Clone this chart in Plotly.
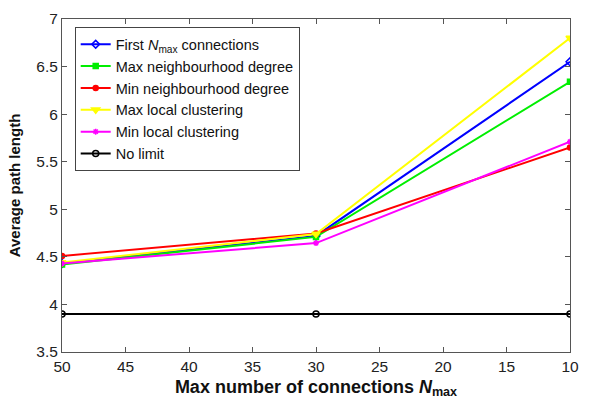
import plotly.graph_objects as go

# Network-limit experiment: average path length vs. max connections per node
n_max = [50, 30, 10]
first_nmax = [4.43, 4.72, 6.55]
max_neigh_degree = [4.42, 4.71, 6.34]
min_neigh_degree = [4.51, 4.745, 5.65]
max_local_clust = [4.44, 4.74, 6.80]
min_local_clust = [4.43, 4.645, 5.71]
no_limit = [3.90, 3.90, 3.90]

series = [
    ("First <i>N</i><sub>max</sub> connections", first_nmax, "#0000ff", "diamond-open", 6),
    ("Max neighbourhood degree", max_neigh_degree, "#00ee00", "square", 5),
    ("Min neighbourhood degree", min_neigh_degree, "#ff0000", "circle", 5),
    ("Max local clustering", max_local_clust, "#ffff00", "triangle-down", 7),
    ("Min local clustering", min_local_clust, "#ff00ff", "asterisk-open", 5),
    ("No limit", no_limit, "#000000", "circle-open", 6),
]

fig = go.Figure()
for name, ys, color, symbol, size in series:
    fig.add_trace(go.Scatter(
        x=n_max, y=ys, name=name, mode="lines+markers",
        line=dict(color=color, width=2),
        marker=dict(symbol=symbol, size=size, color=color,
                    line=dict(color=color, width=1.5)),
    ))

font_family = "Liberation Sans, Arial"
axis_common = dict(
    showline=True, linecolor="#555555", linewidth=1, mirror="ticks",
    ticks="inside", ticklen=5, tickcolor="#555555",
    showgrid=False, zeroline=False,
    tickfont=dict(family=font_family, size=15.5, color="#222222"),
)

fig.update_layout(
    width=589, height=403,
    margin=dict(l=62, r=10, t=13, b=50),
    paper_bgcolor="white", plot_bgcolor="white",
    showlegend=True,
    legend=dict(
        x=0.025, y=0.975, xanchor="left", yanchor="top",
        bgcolor="white", bordercolor="#444444", borderwidth=1,
        font=dict(family=font_family, size=14.5, color="#111111"),
        tracegroupgap=0, itemwidth=30,
    ),
    xaxis=dict(
        range=[50, 10], tickvals=[50, 45, 40, 35, 30, 25, 20, 15, 10],
        title=dict(text="<b>Max number of connections <i>N</i><sub>max</sub></b>",
                   font=dict(family=font_family, size=18, color="#111111"),
                   standoff=6),
        **axis_common,
    ),
    yaxis=dict(
        range=[3.5, 7], tickvals=[3.5, 4, 4.5, 5, 5.5, 6, 6.5, 7],
        ticktext=["3.5", "4", "4.5", "5", "5.5", "6", "6.5", "7"],
        title=dict(text="<b>Average path length</b>",
                   font=dict(family=font_family, size=15, color="#111111"),
                   standoff=12),
        **axis_common,
    ),
)

fig.write_html("out.html")
